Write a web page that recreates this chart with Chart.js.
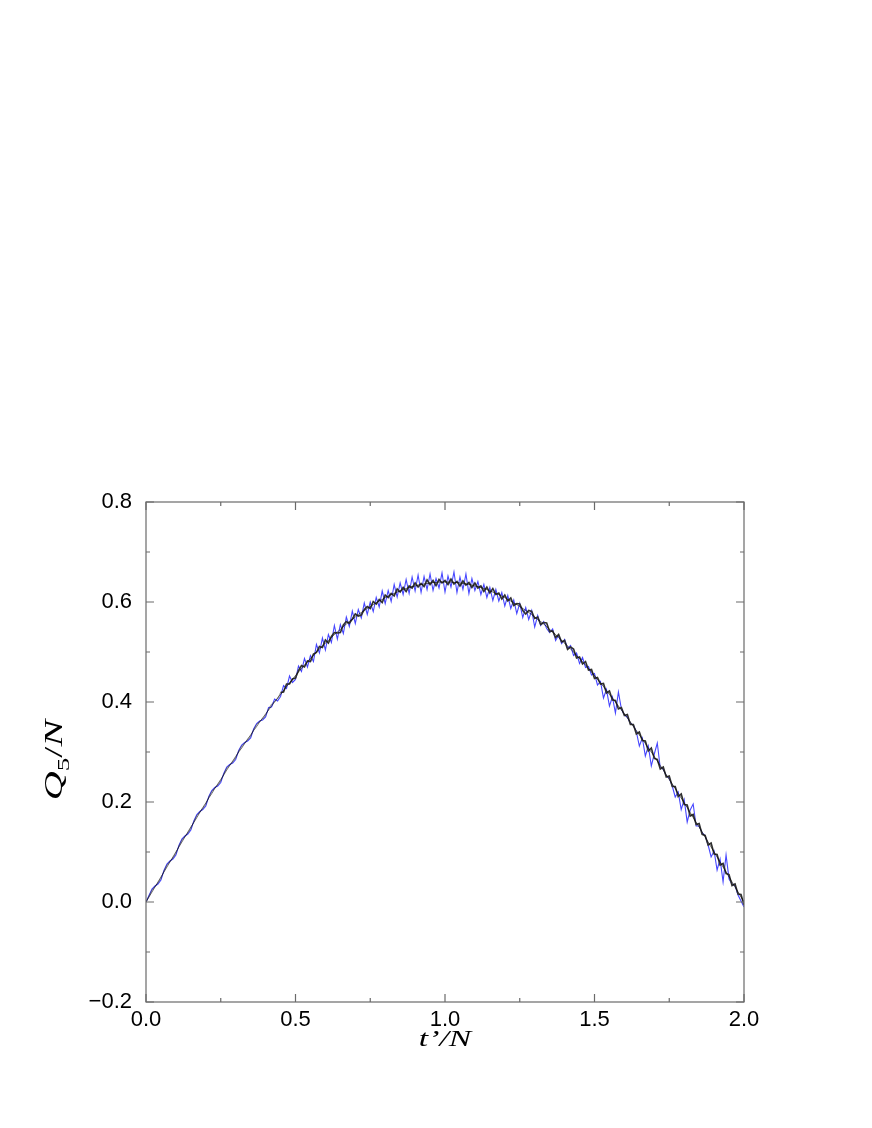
<!DOCTYPE html>
<html>
<head>
<meta charset="utf-8">
<script src="https://cdn.jsdelivr.net/npm/chart.js@4.4.0/dist/chart.umd.min.js"></script>
<style>
  html, body { margin: 0; padding: 0; background: #ffffff; }
  #wrap { width: 872px; height: 1128px; position: relative; }
</style>
</head>
<body>
<div id="wrap"><canvas id="c" width="872" height="1128"></canvas></div>
<script>
// x grid (t'/N)
const tGrid = [
0.00,0.01,0.02,0.03,0.04,0.05,0.06,0.07,0.08,0.09,
0.10,0.11,0.12,0.13,0.14,0.15,0.16,0.17,0.18,0.19,
0.20,0.21,0.22,0.23,0.24,0.25,0.26,0.27,0.28,0.29,
0.30,0.31,0.32,0.33,0.34,0.35,0.36,0.37,0.38,0.39,
0.40,0.41,0.42,0.43,0.44,0.45,0.46,0.47,0.48,0.49,
0.50,0.51,0.52,0.53,0.54,0.55,0.56,0.57,0.58,0.59,
0.60,0.61,0.62,0.63,0.64,0.65,0.66,0.67,0.68,0.69,
0.70,0.71,0.72,0.73,0.74,0.75,0.76,0.77,0.78,0.79,
0.80,0.81,0.82,0.83,0.84,0.85,0.86,0.87,0.88,0.89,
0.90,0.91,0.92,0.93,0.94,0.95,0.96,0.97,0.98,0.99,
1.00,1.01,1.02,1.03,1.04,1.05,1.06,1.07,1.08,1.09,
1.10,1.11,1.12,1.13,1.14,1.15,1.16,1.17,1.18,1.19,
1.20,1.21,1.22,1.23,1.24,1.25,1.26,1.27,1.28,1.29,
1.30,1.31,1.32,1.33,1.34,1.35,1.36,1.37,1.38,1.39,
1.40,1.41,1.42,1.43,1.44,1.45,1.46,1.47,1.48,1.49,
1.50,1.51,1.52,1.53,1.54,1.55,1.56,1.57,1.58,1.59,
1.60,1.61,1.62,1.63,1.64,1.65,1.66,1.67,1.68,1.69,
1.70,1.71,1.72,1.73,1.74,1.75,1.76,1.77,1.78,1.79,
1.80,1.81,1.82,1.83,1.84,1.85,1.86,1.87,1.88,1.89,
1.90,1.91,1.92,1.93,1.94,1.95,1.96,1.97,1.98,1.99,
2.00];

// smooth curve (thin black)
const smoothQ = [
0.000,0.010,0.020,0.030,0.040,0.050,0.060,0.070,0.080,0.090,
0.100,0.110,0.120,0.130,0.140,0.150,0.159,0.169,0.179,0.189,
0.198,0.208,0.217,0.227,0.236,0.245,0.254,0.264,0.273,0.282,
0.291,0.300,0.308,0.317,0.326,0.334,0.343,0.351,0.360,0.368,
0.376,0.384,0.392,0.400,0.408,0.415,0.423,0.431,0.438,0.445,
0.453,0.460,0.467,0.474,0.480,0.487,0.493,0.500,0.506,0.512,
0.518,0.523,0.529,0.535,0.540,0.545,0.551,0.556,0.561,0.565,
0.570,0.575,0.579,0.583,0.587,0.591,0.595,0.598,0.602,0.605,
0.609,0.612,0.615,0.617,0.620,0.622,0.625,0.627,0.629,0.631,
0.632,0.634,0.635,0.636,0.637,0.638,0.639,0.639,0.640,0.640,
0.640,0.640,0.640,0.639,0.639,0.638,0.637,0.636,0.635,0.634,
0.632,0.631,0.629,0.627,0.625,0.622,0.620,0.617,0.615,0.612,
0.609,0.605,0.602,0.598,0.595,0.591,0.587,0.583,0.579,0.575,
0.570,0.565,0.561,0.556,0.551,0.545,0.540,0.535,0.529,0.523,
0.518,0.512,0.506,0.500,0.493,0.487,0.480,0.474,0.467,0.460,
0.453,0.445,0.438,0.431,0.423,0.415,0.408,0.400,0.392,0.384,
0.376,0.368,0.360,0.351,0.343,0.334,0.326,0.317,0.308,0.300,
0.291,0.282,0.273,0.264,0.254,0.245,0.236,0.227,0.217,0.208,
0.198,0.189,0.179,0.169,0.159,0.150,0.140,0.130,0.120,0.110,
0.100,0.090,0.080,0.070,0.060,0.050,0.040,0.030,0.020,0.010,
0.000];

// noisy black series
const blackQ = [
0.000,0.012,0.024,0.031,0.038,0.047,0.062,0.074,0.081,0.088,
0.097,0.112,0.124,0.131,0.138,0.147,0.161,0.173,0.180,0.187,
0.195,0.210,0.221,0.228,0.234,0.242,0.256,0.268,0.274,0.280,
0.288,0.302,0.312,0.318,0.324,0.331,0.345,0.355,0.361,0.366,
0.373,0.386,0.396,0.401,0.406,0.419,0.420,0.436,0.436,0.446,
0.448,0.463,0.473,0.470,0.482,0.481,0.496,0.499,0.511,0.509,
0.524,0.518,0.531,0.539,0.538,0.539,0.554,0.561,0.557,0.566,
0.576,0.572,0.574,0.585,0.591,0.587,0.601,0.596,0.605,0.599,
0.614,0.609,0.617,0.612,0.626,0.620,0.629,0.621,0.632,0.628,
0.638,0.630,0.637,0.631,0.644,0.635,0.643,0.633,0.645,0.638,
0.643,0.635,0.646,0.636,0.641,0.632,0.642,0.634,0.639,0.629,
0.638,0.628,0.632,0.621,0.630,0.618,0.627,0.615,0.618,0.606,
0.614,0.602,0.608,0.593,0.597,0.596,0.583,0.576,0.583,0.581,
0.567,0.570,0.555,0.559,0.558,0.541,0.542,0.529,0.535,0.520,
0.523,0.505,0.510,0.506,0.488,0.490,0.476,0.481,0.464,0.465,
0.447,0.449,0.436,0.437,0.418,0.422,0.404,0.403,0.386,0.389,
0.373,0.375,0.355,0.355,0.336,0.340,0.323,0.322,0.302,0.308,
0.287,0.285,0.266,0.270,0.250,0.252,0.231,0.231,0.211,0.216,
0.195,0.194,0.172,0.175,0.155,0.157,0.135,0.133,0.114,0.118,
0.096,0.095,0.074,0.077,0.057,0.055,0.033,0.036,0.016,0.015,
-0.006];

// noisy blue series
const blueQ = [
0.000,0.013,0.026,0.032,0.036,0.044,0.063,0.076,0.082,0.086,
0.094,0.113,0.126,0.132,0.136,0.144,0.162,0.175,0.181,0.185,
0.192,0.211,0.223,0.229,0.232,0.239,0.257,0.270,0.275,0.278,
0.285,0.303,0.314,0.319,0.322,0.328,0.346,0.357,0.362,0.364,
0.370,0.389,0.390,0.406,0.402,0.411,0.433,0.427,0.452,0.439,
0.445,0.472,0.461,0.487,0.470,0.493,0.481,0.515,0.498,0.528,
0.504,0.535,0.519,0.553,0.526,0.555,0.537,0.570,0.551,0.582,
0.557,0.585,0.568,0.598,0.575,0.600,0.581,0.609,0.590,0.622,
0.597,0.623,0.601,0.635,0.610,0.638,0.615,0.645,0.617,0.650,
0.622,0.654,0.619,0.651,0.625,0.656,0.623,0.647,0.628,0.658,
0.620,0.652,0.630,0.660,0.619,0.650,0.625,0.656,0.617,0.647,
0.623,0.641,0.615,0.635,0.609,0.629,0.603,0.625,0.602,0.619,
0.592,0.613,0.587,0.604,0.577,0.597,0.569,0.589,0.565,0.583,
0.550,0.573,0.553,0.561,0.547,0.539,0.546,0.523,0.534,0.517,
0.525,0.507,0.513,0.493,0.498,0.477,0.489,0.469,0.471,0.454,
0.457,0.434,0.441,0.408,0.425,0.392,0.410,0.378,0.420,0.386,
0.374,0.370,0.357,0.354,0.340,0.312,0.328,0.292,0.312,0.272,
0.296,0.318,0.268,0.266,0.252,0.248,0.232,0.210,0.220,0.185,
0.205,0.160,0.184,0.196,0.152,0.152,0.138,0.133,0.114,0.090,
0.102,0.064,0.086,0.040,0.094,0.046,0.036,0.033,0.014,0.002,
-0.010];

// axis ticks
const xMajorTicks = [0.0, 0.5, 1.0, 1.5, 2.0];
const xMinorTicks = [0.25, 0.75, 1.25, 1.75];
const yMajorTicks = [-0.2, 0.0, 0.2, 0.4, 0.6, 0.8];
const yMinorTicks = [-0.1, 0.1, 0.3, 0.5, 0.7];

function pts(vals) { return tGrid.map((t, i) => ({ x: t, y: vals[i] })); }

function fmt(v) {
  if (Math.abs(v) < 1e-9) return '0.0';
  const s = Math.abs(v).toFixed(1);
  return v < 0 ? '\u2212' + s : s;
}

const framePlugin = {
  id: 'frame',
  afterDatasetsDraw(chart) {
    const ctx = chart.ctx;
    const a = chart.chartArea;
    const xs = chart.scales.x, ys = chart.scales.y;
    ctx.save();
    ctx.strokeStyle = '#6a6a6a';
    ctx.lineWidth = 1.2;
    ctx.strokeRect(a.left, a.top, a.right - a.left, a.bottom - a.top);
    ctx.beginPath();
    const tick = (x1, y1, x2, y2) => { ctx.moveTo(x1, y1); ctx.lineTo(x2, y2); };
    xMajorTicks.forEach(v => { const p = xs.getPixelForValue(v); tick(p, a.bottom, p, a.bottom - 8); tick(p, a.top, p, a.top + 8); });
    xMinorTicks.forEach(v => { const p = xs.getPixelForValue(v); tick(p, a.bottom, p, a.bottom - 4); tick(p, a.top, p, a.top + 4); });
    yMajorTicks.forEach(v => { const p = ys.getPixelForValue(v); tick(a.left, p, a.left + 8, p); tick(a.right, p, a.right - 8, p); });
    yMinorTicks.forEach(v => { const p = ys.getPixelForValue(v); tick(a.left, p, a.left + 4, p); tick(a.right, p, a.right - 4, p); });
    ctx.stroke();
    ctx.restore();
  },
  afterDraw(chart) {
    const ctx = chart.ctx;
    const a = chart.chartArea;
    ctx.save();
    ctx.fillStyle = '#000';
    ctx.textBaseline = 'alphabetic';
    // x title: t'/N
    const cx = (a.left + a.right) / 2;
    ctx.translate(cx, 1046);
    ctx.scale(1.4, 1);
    ctx.font = 'italic 24px "Liberation Serif", "DejaVu Serif", serif';
    const xt = 't\u2019/N';
    const wx = ctx.measureText(xt).width;
    ctx.fillText(xt, -wx / 2, 0);
    ctx.restore();

    // y title: Q_5/N (rotated)
    ctx.save();
    ctx.fillStyle = '#000';
    ctx.translate(62, 760);
    ctx.rotate(-Math.PI / 2);
    ctx.scale(1.6, 1);
    const fI = 'italic 25px "Liberation Serif", "DejaVu Serif", serif';
    const fR = '25px "Liberation Serif", "DejaVu Serif", serif';
    const fS = '17px "Liberation Serif", "DejaVu Serif", serif';
    const parts = [
      { s: 'Q', f: fI, dy: 0 },
      { s: '5', f: fS, dy: 7 },
      { s: '/', f: fR, dy: 0 },
      { s: 'N', f: fI, dy: 0 }
    ];
    let total = 0;
    parts.forEach(p => { ctx.font = p.f; p.w = ctx.measureText(p.s).width; total += p.w; });
    let x = -total / 2;
    parts.forEach(p => { ctx.font = p.f; ctx.fillText(p.s, x, p.dy); x += p.w; });
    ctx.restore();
  }
};

const tickFont = { family: '"Liberation Sans", Arial, sans-serif', size: 22 };
const leftEdge = 0.45;

new Chart(document.getElementById('c'), {
  type: 'line',
  data: {
    datasets: [
      { label: 'smooth', data: pts(smoothQ), borderColor: 'rgba(0,0,0,0.75)', borderWidth: 0.8, pointRadius: 0, tension: 0, order: 1 },
      { label: 'black', data: pts(blackQ), borderColor: '#303030', borderWidth: 1.6, pointRadius: 0, tension: 0, order: 2,
        segment: {
          borderColor: c => (c.p1.parsed.x <= leftEdge ? 'rgba(40,40,40,0.55)' : '#303030'),
          borderWidth: c => (c.p1.parsed.x <= leftEdge ? 0.9 : 1.6)
        } },
      { label: 'blue', data: pts(blueQ), borderColor: '#4646ff', borderWidth: 1.1, pointRadius: 0, tension: 0, order: 3 }
    ]
  },
  options: {
    responsive: false,
    animation: false,
    events: [],
    layout: { padding: { top: 502, right: 128, left: 0, bottom: 0 } },
    plugins: { legend: { display: false }, tooltip: { enabled: false } },
    scales: {
      x: {
        type: 'linear', min: 0, max: 2,
        afterBuildTicks: s => { s.ticks = xMajorTicks.map(v => ({ value: v })); },
        ticks: { callback: v => fmt(v), font: tickFont, color: '#000', padding: 5, maxRotation: 0, autoSkip: false },
        grid: { display: false, drawTicks: false },
        border: { display: false },
        afterFit: s => { s.height = 126; }
      },
      y: {
        type: 'linear', min: -0.2, max: 0.8,
        afterBuildTicks: s => { s.ticks = yMajorTicks.map(v => ({ value: v })); },
        ticks: { callback: v => fmt(v), font: tickFont, color: '#000', padding: 14, autoSkip: false },
        grid: { display: false, drawTicks: false },
        border: { display: false },
        afterFit: s => { s.width = 146; }
      }
    }
  },
  plugins: [framePlugin]
});
</script>
</body>
</html>
